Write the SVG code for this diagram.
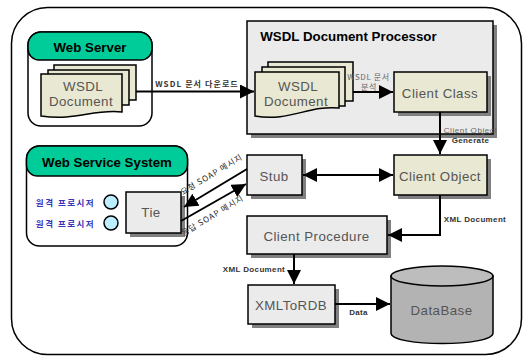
<svg xmlns="http://www.w3.org/2000/svg" width="525" height="356" viewBox="0 0 525 356">
<style>
text{font-family:"Liberation Sans","Noto Sans CJK KR",sans-serif;text-anchor:middle}
.ko{font-family:"Noto Sans CJK KR","Liberation Sans",sans-serif}
.lbl{font-size:8px;font-weight:bold;fill:#333;letter-spacing:.35px}
.kl{font-size:8px;font-weight:bold;fill:#333;letter-spacing:1.1px}
.sm{font-size:8px;fill:#666;letter-spacing:.6px}
.sp{font-size:8px;fill:#222;letter-spacing:.9px}
.nm{font-size:13.300px;fill:#555;letter-spacing:.45px}
.hd{font-size:13.300px;font-weight:bold;fill:#000}
.sh{fill:#808080}
.box{stroke:#000;stroke-width:1.500}
.g{fill:#ebebeb}.y{fill:#e9e8d2}.t{fill:#00cc99}
.c{fill:none;stroke:#000;stroke-width:2}
.blue{font-size:8.500px;font-weight:bold;fill:#3333bb;letter-spacing:1.500px}
</style>
<defs>
<marker id="a" markerUnits="userSpaceOnUse" markerWidth="15" markerHeight="14" refX="14" refY="7" orient="auto-start-reverse"><path d="M0 0L14 7L0 14Z"/></marker>
</defs>
<rect x="0" y="0" width="525" height="356" fill="#fff"/>
<g id="outer"><rect x="11.500" y="7.500" width="510" height="347" rx="36" fill="#fff" stroke="#000" stroke-width="1.500"/></g>
<g id="web-server">
<rect class="box" x="28" y="32" width="124" height="94" rx="13" fill="#fff"/>
<path class="box t" d="M28 49V45a13 13 0 0 1 13-13h98a13 13 0 0 1 13 13v4a11 11 0 0 1-11 11H39a11 11 0 0 1-11-11z"/>
<text class="hd" x="90" y="52">Web Server</text>
<path class="box y" d="M54 65h82v35H54z"/><path class="box y" d="M48 70h81v35H48z"/>
<path class="box y" d="M41 74h81v38c-30-3-45 9-81 4z"/>
<text class="nm" x="83" y="91">WSDL</text><text class="nm" x="81" y="106">Document</text>
</g>
<g id="processor">
<rect class="sh" x="251" y="25" width="246" height="113"/>
<rect class="box g" x="247" y="21" width="246" height="113" stroke-width="2"/>
<text class="hd" x="348.500" y="41">WSDL Document Processor</text>
<path class="box y" d="M268 62h85v39h-85z"/><path class="box y" d="M262 67h83v39h-83z"/>
<path class="box y" d="M255 72h84v36c-30-3-50 14-84 8z"/>
<text class="nm" x="298" y="91">WSDL</text><text class="nm" x="296" y="106">Document</text>
</g>
<g id="client-class"><rect class="sh" x="398" y="76" width="93" height="40"/><rect class="box y" x="394" y="72" width="93" height="40"/><text class="nm" x="440" y="98">Client Class</text></g>
<g id="client-object"><rect class="sh" x="398" y="159" width="93" height="40"/><rect class="box y" x="394" y="155" width="93" height="40"/><text class="nm" x="440" y="181">Client Object</text></g>
<g id="stub"><rect class="sh" x="251" y="159" width="55" height="40"/><rect class="box g" x="247" y="155" width="55" height="40"/><text class="nm" x="274" y="181">Stub</text></g>
<g id="web-service-system">
<rect class="box" x="26.500" y="146" width="161" height="100" rx="13" fill="#fff"/>
<path class="box t" d="M26.500 165V159a13 13 0 0 1 13-13h135a13 13 0 0 1 13 13v6a11 11 0 0 1-11 11H38a11 11 0 0 1-11.500-11z"/>
<text class="hd" x="107" y="167">Web Service System</text>
<text class="ko blue" x="65.500" y="206">원격 프로시저</text><text class="ko blue" x="65.500" y="227">원격 프로시저</text>
<circle cx="111" cy="202" r="7" fill="#bbeeff" stroke="#000" stroke-width="1.500"/><circle cx="111" cy="223" r="7" fill="#bbeeff" stroke="#000" stroke-width="1.500"/>
</g>
<g id="tie"><rect class="sh" x="130" y="196" width="55" height="41"/><rect class="box g" x="126" y="192" width="55" height="41"/><text class="nm" x="151" y="217">Tie</text></g>
<g id="client-procedure"><rect class="sh" x="251" y="220" width="140" height="38"/><rect class="box g" x="247" y="216" width="140" height="38"/><text class="nm" x="316.500" y="241">Client Procedure</text></g>
<g id="xml-to-rdb"><rect class="sh" x="252" y="289" width="87" height="39"/><rect class="box g" x="248" y="285" width="87" height="39"/><text class="nm" x="291" y="310">XMLToRDB</text></g>
<g id="database">
<path d="M391 276V333C391 347 493 347 493 333V276Z" fill="#b3b3b3" stroke="#000" stroke-width="1.500"/>
<ellipse cx="442" cy="276" rx="51" ry="10" fill="#bdbdbd" stroke="#000" stroke-width="1.500"/>
<text class="nm" x="441.500" y="315">DataBase</text>
</g>
<g id="connectors">
<path class="c" d="M136 91.500H254" marker-end="url(#a)"/>
<path class="c" d="M353 92H393" marker-end="url(#a)"/>
<path class="c" d="M440 112V154" marker-end="url(#a)"/>
<path class="c" d="M303 175H393" marker-start="url(#a)" marker-end="url(#a)"/>
<path class="c" d="M247 169L184 207" marker-end="url(#a)"/>
<path class="c" d="M181 221L246 184" marker-end="url(#a)"/>
<path class="c" d="M440 195V235H388" marker-end="url(#a)"/>
<path class="c" d="M294 254V284" marker-end="url(#a)"/>
<path class="c" d="M335 304H390" marker-end="url(#a)"/>
</g>
<g id="labels">
<text class="ko kl" x="197" y="87">WSDL 문서 다운로드</text>
<text class="ko sm" x="368.500" y="80">WSDL 문서</text><text class="ko sm" x="369" y="90">분석</text>
<text class="sm" x="470.500" y="133">Client Object</text><text class="lbl" x="470.500" y="143">Generate</text>
<text class="ko sp" transform="translate(213 177) rotate(-31)">요청 SOAP 메시지</text>
<text class="ko sp" transform="translate(214 218) rotate(-31)">응답 SOAP 메시지</text>
<text class="lbl" x="475" y="222">XML Document</text>
<text class="lbl" x="254" y="272">XML Document</text>
<text class="lbl" x="358.500" y="315">Data</text>
</g>
</svg>
